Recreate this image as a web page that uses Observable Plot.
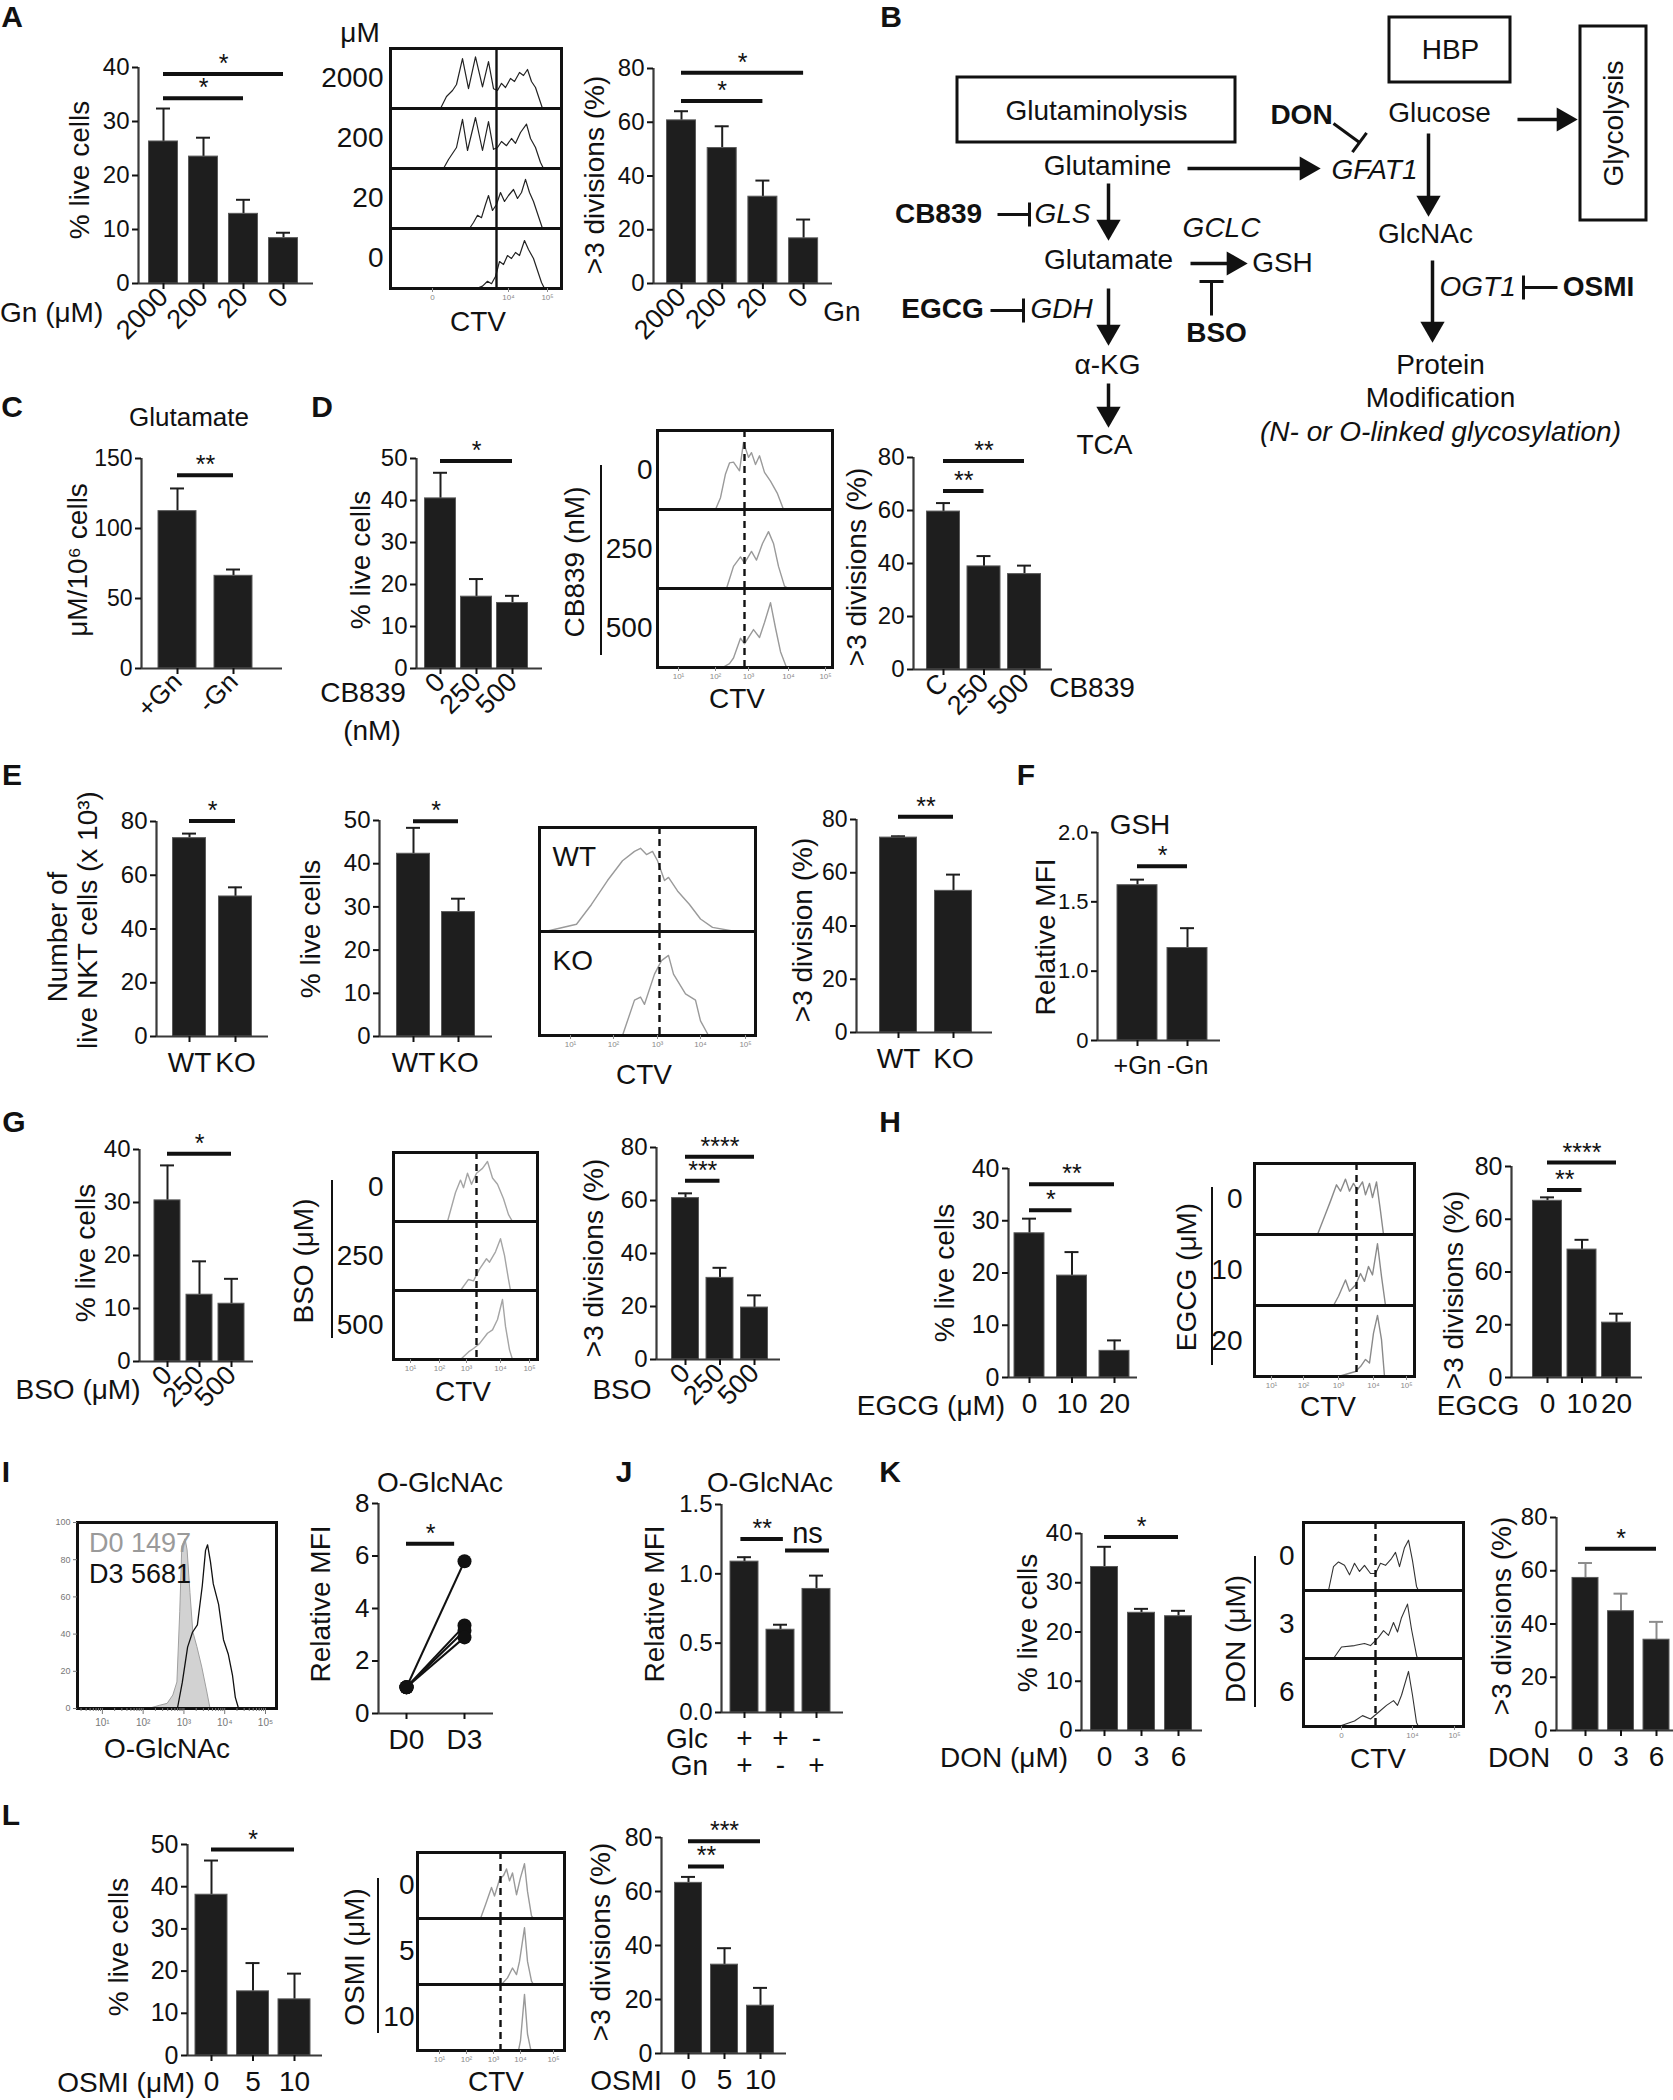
<!DOCTYPE html>
<html><head><meta charset="utf-8">
<script src="https://cdn.jsdelivr.net/npm/d3@7"></script>
<script src="https://cdn.jsdelivr.net/npm/@observablehq/plot@0.6"></script>
<style>
html,body{margin:0;padding:0;background:#fff;}
#fig{position:relative;width:1673px;height:2100px;overflow:hidden;background:#fff;font-family:"Liberation Sans",Arial,Helvetica,sans-serif;color:#111;}
#fig .t{position:absolute;white-space:nowrap;line-height:1;}
#fig .vl{position:absolute;width:0;border-left:2px solid #111;}
</style></head><body><div id="fig"></div>
<script>
// ================= DATA =================
// Panel A
const gnDoses = ["2000","200","20","0"];
const A_live = [26.3, 23.5, 12.9, 8.4];
const A_liveErr = [32.4, 27.0, 15.5, 9.4];
const A_liveSig = [[0,3,38.8,"*"],[0,2,34.3,"*"]];
const A_div = [60.7, 50.4, 32.3, 16.8];
const A_divErr = [64.1, 58.5, 38.3, 23.8];
const A_divSig = [[0,3,78.4,"*"],[0,2,67.9,"*"]];
const A_h2000 = [[50,0],[56,0.2],[62,0.3],[66,0.4],[72,0.83],[78,0.33],[85,0.86],[92,0.36],[98,0.78],[103,0.33],[107,0.3],[111,0.42],[115,0.35],[120,0.5],[124,0.45],[129,0.6],[133,0.55],[137,0.65],[141,0.45],[145,0.35],[149,0.15],[152,0]];
const A_h200 = [[53,0],[58,0.15],[62,0.25],[66,0.35],[72,0.82],[77,0.3],[85,0.85],[92,0.3],[98,0.78],[103,0.32],[107,0.35],[111,0.45],[116,0.38],[121,0.5],[125,0.42],[130,0.6],[136,0.74],[140,0.5],[145,0.35],[150,0.1],[153,0]];
const A_h20 = [[79,0],[83,0.1],[87,0.22],[91,0.18],[95,0.4],[98,0.55],[102,0.3],[106,0.4],[110,0.6],[114,0.45],[118,0.55],[123,0.65],[127,0.5],[131,0.6],[135,0.82],[139,0.6],[143,0.45],[147,0.25],[152,0]];
const A_h0 = [[86,0],[92,0.04],[97,0.12],[101,0.08],[105,0.2],[109,0.45],[113,0.4],[117,0.55],[121,0.5],[125,0.6],[129,0.55],[134,0.8],[138,0.65],[143,0.5],[147,0.3],[151,0.1],[154,0]];
const A_ctvTicks = [[42,"0"],[118,"10⁴"],[157,"10⁵"]];
// Panel B (pathway diagram, layout units)
const B_boxes = [{x1:100,x2:378,y1:77,y2:142},{x1:532,x2:653,y1:17,y2:82},{x1:723,x2:789,y1:26,y2:220}];
const B_plain = [{t:"Glutaminolysis",x:239,y:111},{t:"HBP",x:593,y:50},{t:"Glucose",x:582,y:113},{t:"Glutamine",x:250,y:166},{t:"GlcNAc",x:568,y:234},{t:"Glutamate",x:251,y:260},{t:"GSH",x:425,y:263},{t:"α-KG",x:250,y:365},{t:"TCA",x:247,y:445},{t:"Protein",x:583,y:365},{t:"Modification",x:583,y:398}];
const B_bold = [{t:"DON",x:444,y:115},{t:"CB839",x:81,y:214},{t:"BSO",x:359,y:333},{t:"EGCG",x:85,y:309},{t:"OSMI",x:741,y:287}];
const B_italic = [{t:"GFAT1",x:517,y:170},{t:"GLS",x:205,y:214},{t:"GCLC",x:364,y:228},{t:"GDH",x:204,y:309},{t:"(N- or O-linked glycosylation)",x:583,y:432}];
const B_italicStart = [{t:"OGT1",x:582,y:287}];
const B_vertical = [{t:"Glycolysis",x:757,y:123}];
const B_arrows = [[660,119,720,119],[330,168,463,168],[571,133,571,216],[251,183,251,240],[333,263,390,263],[251,288,251,345],[251,383,251,427],[575,260,575,342]];
const B_inhib = [[476,123,502,142],[140,214,172,214],[133,310,166,310],[354,315,354,281],[700,287,666,287]];
// Panel C
const C_cats = ["+Gn","-Gn"];
const C_glu = [112.4, 66.2];
const C_gluErr = [128.6, 70.7];
const C_sig = [[0,1,138,"**"]];
// Panel D
const cbDoses = ["0","250","500"];
const D_live = [40.5, 17.1, 15.6];
const D_liveErr = [46.6, 21.3, 17.3];
const D_liveSig = [[0,2,49.4,"*"]];
const D_divCats = ["C","250","500"];
const D_div = [59.6, 38.9, 36.0];
const D_divErr = [62.8, 42.8, 39.2];
const D_divSig = [[0,2,78.7,"**"],[0,1,67.4,"**"]];
const D_h0 = [[58,0],[63,0.15],[68,0.45],[72,0.59],[76,0.6],[82,0.49],[86,0.85],[91,0.66],[94,0.72],[98,0.57],[102,0.68],[107,0.47],[113,0.36],[120,0.2],[126,0]];
const D_h250 = [[69,0],[72,0.12],[76,0.28],[83,0.4],[87,0.32],[94,0.47],[99,0.36],[105,0.57],[111,0.72],[116,0.57],[121,0.28],[127,0.03],[131,0]];
const D_h500 = [[65,0],[72,0.05],[76,0.12],[83,0.37],[87,0.3],[96,0.48],[102,0.38],[107,0.57],[113,0.82],[118,0.5],[123,0.2],[129,0]];
const D_ctvTicks = [[21,"10¹"],[58,"10²"],[91,"10³"],[131,"10⁴"],[168,"10⁵"]];
// Panel E
const geno = ["WT","KO"];
const E_num = [73.8, 52.1];
const E_numErr = [75.5, 55.5];
const E_numSig = [[0,1,80.2,"*"]];
const E_live = [42.3, 28.8];
const E_liveErr = [48.3, 31.9];
const E_liveSig = [[0,1,49.8,"*"]];
const E_div = [73.2, 53.2];
const E_divErr = [73.7, 59.3];
const E_divSig = [[0,1,81,"**"]];
const E_hWT = [[6,0],[37,0.07],[52,0.26],[68,0.49],[83,0.68],[95,0.77],[101,0.8],[107,0.74],[113,0.77],[118,0.68],[125,0.49],[129,0.52],[138,0.39],[150,0.26],[161,0.12],[173,0.04],[196,0]];
const E_hKO = [[83,0],[95,0.34],[101,0.37],[105,0.3],[115,0.59],[122,0.72],[129,0.77],[134,0.59],[139,0.51],[146,0.4],[156,0.34],[161,0.14],[169,0]];
const E_ctvTicks = [[31,"10¹"],[74,"10²"],[118,"10³"],[161,"10⁴"],[206,"10⁵"]];
// Panel F
const F_cats = ["+Gn","-Gn"];
const F_mfi = [1.62, 1.167];
const F_mfiErr = [1.66, 1.31];
const F_sig = [[0,1,1.757,"*"]];
const F_ticks = [0.5, 1, 1.5, 2];
const F_tickLabels = ["0","1.0","1.5","2.0"];
// Panel G
const bsoDoses = ["0","250","500"];
const G_live = [30.4, 12.6, 10.9];
const G_liveErr = [37.0, 18.9, 15.6];
const G_liveSig = [[0,2,39.2,"*"]];
const G_div = [60.9, 30.8, 19.6];
const G_divErr = [62.7, 34.6, 24.2];
const G_divSig = [[0,2,76.5,"****"],[0,1,67.5,"***"]];
const G_h0 = [[54,0],[62,0.42],[67,0.6],[70,0.49],[74,0.7],[78,0.54],[83,0.7],[89,0.77],[94,0.87],[99,0.63],[104,0.54],[110,0.33],[115,0.1],[119,0]];
const G_h250 = [[67,0],[75,0.16],[80,0.14],[86,0.31],[93,0.46],[96,0.41],[102,0.56],[107,0.75],[111,0.51],[115,0.16],[117,0]];
const G_h500 = [[67,0],[75,0.11],[80,0.16],[86,0.23],[94,0.38],[99,0.43],[104,0.58],[109,0.87],[112,0.48],[116,0.14],[119,0]];
const G_ctvTicks = [[17,"10¹"],[46,"10²"],[73,"10³"],[107,"10⁴"],[136,"10⁵"]];
// Panel H
const egcgDoses = ["0","10","20"];
const H_live = [27.6, 19.5, 5.1];
const H_liveErr = [30.4, 24.0, 7.1];
const H_liveSig = [[0,2,37.0,"**"],[0,1,32.0,"*"]];
const H_div = [67.0, 48.5, 20.8];
const H_divErr = [68.3, 52.2, 24.2];
const H_divSig = [[0,2,81.5,"****"],[0,1,71.1,"**"]];
const H_divTickLabels = ["0","20","60","60","80"];
const H_h0 = [[63,0],[71,0.29],[76,0.47],[82,0.7],[86,0.61],[91,0.78],[95,0.61],[99,0.72],[103,0.63],[108,0.74],[111,0.56],[115,0.72],[118,0.52],[122,0.74],[126,0.33],[129,0]];
const H_h10 = [[79,0],[84,0.13],[91,0.36],[95,0.2],[101,0.29],[106,0.45],[110,0.34],[114,0.55],[118,0.43],[123,0.87],[127,0.41],[131,0]];
const H_h20 = [[84,0],[101,0.07],[106,0.14],[111,0.24],[115,0.19],[119,0.61],[123,0.86],[127,0.52],[130,0]];
const H_ctvTicks = [[17,"10¹"],[49,"10²"],[84,"10³"],[119,"10⁴"],[152,"10⁵"]];
// Panel I
const I_d0Hist = [[2.18,0],[2.42,1.5],[2.6,2.5],[2.74,7],[2.84,14],[2.91,52],[2.96,87],[3.04,91],[3.09,85],[3.16,62],[3.23,41],[3.33,33],[3.45,22],[3.58,8],[3.65,0]];
const I_d3Hist = [[2.84,0],[2.96,14],[3.09,33],[3.21,41],[3.33,45],[3.45,66],[3.53,85],[3.58,88],[3.65,79],[3.72,67],[3.85,56],[3.97,37],[4.09,29],[4.19,18],[4.26,6],[4.34,0]];
const I_days = ["D0","D3"];
const I_d0 = [1, 1, 1, 1];
const I_d3 = [5.8, 3.35, 3.15, 2.9];
const I_sig = [[0,0.83,6.47,"*"]];
// Panel J
const J_glc = ["+","+","-"];
const J_gn = ["+","-","+"];
const J_mfi = [1.088, 0.597, 0.891];
const J_mfiErr = [1.12, 0.633, 0.987];
const J_sig = [[-0.1,1.08,1.252,"**"],[1.14,2.36,1.168,"ns"]];
// Panel K
const donDoses = ["0","3","6"];
const K_live = [33.2, 23.9, 23.2];
const K_liveErr = [37.3, 24.7, 24.3];
const K_liveSig = [[0,2,39.3,"*"]];
const K_div = [57.3, 44.8, 34.1];
const K_divErr = [62.9, 51.4, 40.8];
const K_divSig = [[0,2,68.3,"*"]];
const K_h0 = [[25,0],[30,0.35],[35,0.42],[41,0.37],[46,0.23],[51,0.4],[56,0.28],[61,0.37],[67,0.25],[72,0.25],[77,0.4],[82,0.37],[88,0.47],[92,0.56],[96,0.35],[101,0.63],[105,0.74],[109,0.44],[113,0.06],[115,0]];
const K_h3 = [[30,0],[38,0.17],[51,0.19],[61,0.22],[67,0.19],[75,0.31],[80,0.41],[85,0.34],[90,0.53],[94,0.39],[98,0.6],[104,0.8],[108,0.43],[113,0.05],[114,0]];
const K_h6 = [[35,0],[51,0.08],[59,0.16],[67,0.11],[75,0.21],[83,0.31],[90,0.38],[94,0.31],[98,0.46],[105,0.81],[109,0.46],[113,0.06],[115,0]];
const K_ctvTicks = [[38,"0"],[109,"10⁴"],[151,"10⁵"]];
// Panel L
const osmiDoses = ["0","5","10"];
const L_live = [38.1, 15.2, 13.3];
const L_liveErr = [46.2, 21.9, 19.4];
const L_liveSig = [[0,2,48.8,"*"]];
const L_div = [63.2, 32.9, 17.7];
const L_divErr = [65.4, 39.0, 24.3];
const L_divSig = [[0,2,78.6,"***"],[0,1,69.3,"**"]];
const L_h0 = [[63,0],[68,0.21],[74,0.47],[77,0.34],[82,0.59],[86,0.65],[89,0.75],[92,0.57],[95,0.69],[99,0.36],[103,0.62],[107,0.83],[110,0.41],[114,0.04],[116,0]];
const L_h5 = [[84,0],[90,0.1],[95,0.25],[99,0.15],[102,0.35],[107,0.86],[110,0.35],[114,0.05],[116,0]];
const L_h10 = [[101,0],[103,0.15],[107,0.85],[110,0.25],[113,0.03],[114,0]];
const L_ctvTicks = [[22,"10¹"],[49,"10²"],[76,"10³"],[103,"10⁴"],[136,"10⁵"]];

// ================= HELPERS =================
const FONT = '"Liberation Sans", Arial, Helvetica, sans-serif';
const BAR = "#1e1e1e", AX = "#3a3a3a";
const fig = document.getElementById("fig");
const STYLE = {overflow:"visible", background:"transparent", fontFamily:FONT, color:"#111"};
function put(el, x, y){ el.style.position="absolute"; el.style.left=x+"px"; el.style.top=y+"px"; fig.appendChild(el); return el; }
function T(text, x, y, o={}){
  const s=document.createElement("div"); s.className="t"; s.textContent=text;
  s.style.fontSize=(o.size||28)+"px";
  if(o.bold) s.style.fontWeight="bold";
  if(o.italic) s.style.fontStyle="italic";
  if(o.color) s.style.color=o.color;
  const ax=o.anchor==="start"?"0%":o.anchor==="end"?"-100%":"-50%";
  s.style.transform=`translate(${ax},-50%)`+(o.rotate?` rotate(${o.rotate}deg)`:"");
  return put(s,x,y);
}
function VL(x,y1,y2){ const d=document.createElement("div"); d.className="vl"; d.style.height=(y2-y1)+"px"; put(d,x-1,y1); }

function barChart(c){
  const n=(c.cats||c.vals).length, s=c.sp;
  const ml=130, mr=130, mt=70, mb=110;
  const xd=[(c.L-c.c0)/s,(c.R-c.c0)/s];
  const hw=(c.barW||0)/2/s, cap=7/s;
  const y0=c.yMin??0;
  const sig=(c.sig||[]).map(([a,b,y,l])=>({a,b,y,l}));
  const marks=[];
  if(c.pairs){
    const pr=c.pairs.map((v,k)=>({a:I_d0[k],b:v}));
    marks.push(Plot.link(pr,{x1:0,y1:"a",x2:1,y2:"b",stroke:"#111",strokeWidth:2}));
    marks.push(Plot.dot(pr,{x:0,y:"a",r:7,fill:"#111"}));
    marks.push(Plot.dot(pr,{x:1,y:"b",r:7,fill:"#111"}));
  } else {
    const data=c.vals.map((v,i)=>({i,v,e:c.errs[i]}));
    const ec=c.errColor||BAR;
    marks.push(Plot.ruleX(data,{x:"i",y1:"v",y2:"e",stroke:ec,strokeWidth:2}));
    marks.push(Plot.ruleY(data,{y:"e",x1:d=>d.i-cap,x2:d=>d.i+cap,stroke:ec,strokeWidth:2}));
    marks.push(Plot.rectY(data,{x1:d=>d.i-hw,x2:d=>d.i+hw,y1:y0,y2:"v",fill:BAR,stroke:"#5a5a5a",strokeWidth:1}));
  }
  marks.push(Plot.ruleY([y0],{x1:xd[0],x2:xd[1],stroke:AX,strokeWidth:2.2}));
  marks.push(Plot.ruleX([xd[0]],{y1:y0,y2:c.yMax,stroke:AX,strokeWidth:2.2}));
  marks.push(Plot.axisY({ticks:c.ticks,tickFormat:c.tickFmt||(d=>String(d)),tickSize:6,tickPadding:3,fontSize:c.tf||24,label:null,strokeWidth:2}));
  marks.push(Plot.axisX({ticks:d3.range(n),tickFormat:i=>c.cats?c.cats[i]:"",tickSize:6,tickPadding:c.rot?3:10,tickRotate:c.rot?-45:0,fontSize:c.cf||(c.rot?27:28),label:null,strokeWidth:2}));
  (c.rows||[]).forEach(([arr,dy])=>{
    marks.push(Plot.text(d3.range(n),{x:d=>d,text:d=>arr[d],frameAnchor:"bottom",dy,fontSize:28,lineAnchor:"middle"}));
  });
  marks.push(Plot.ruleY(sig,{y:"y",x1:"a",x2:"b",stroke:"#111",strokeWidth:4}));
  marks.push(Plot.text(sig.filter(d=>d.l!=="ns"),{x:d=>(d.a+d.b)/2,y:"y",text:"l",dy:-10,fontSize:25,lineAnchor:"middle"}));
  marks.push(Plot.text(sig.filter(d=>d.l==="ns"),{x:d=>(d.a+d.b)/2,y:"y",text:"l",dy:-17,fontSize:29,lineAnchor:"middle"}));
  const p=Plot.plot({width:c.R-c.L+ml+mr,height:c.B-c.T+mt+mb,marginLeft:ml,marginRight:mr,marginTop:mt,marginBottom:mb,
    x:{domain:xd},y:{domain:[y0,c.yMax]},style:STYLE,marks});
  put(p,c.L-ml,c.T-mt);
}

function histo(c){
  const W=c.R-c.L, ml=110, mr=20, mt=20, mb=60;
  const pts=c.data.flatMap((arr,k)=>arr.map(([x,y])=>({row:c.rows[k],x,y})));
  const tickMap=new Map(c.ticks.map(([x,l])=>[x,l]));
  const marks=[
    Plot.line(pts,{x:"x",y:"y",fy:"row",stroke:c.stroke,strokeWidth:c.sw||1.4}),
    Plot.ruleX([c.div],{stroke:"#111",strokeWidth:2.4,strokeDasharray:c.dashed?"7,5":null}),
    Plot.frame({stroke:"#111",strokeWidth:3}),
    Plot.axisX({ticks:c.ticks.map(t=>t[0]),tickFormat:d=>tickMap.get(d)??"",tickSize:4,tickPadding:2,fontSize:8,label:null,color:"#8a8a8a"})
  ];
  if(c.inside) marks.push(Plot.text(c.rows.map(r=>({row:r})),{fy:"row",text:"row",frameAnchor:"top-left",dx:13,dy:30,lineAnchor:"middle",fontSize:28}));
  else marks.push(Plot.axisFy({anchor:"left",tickSize:0,tickPadding:c.pad??7,fontSize:28,label:null}));
  const p=Plot.plot({width:W+ml+mr,height:c.B-c.T+mt+mb,marginLeft:ml,marginRight:mr,marginTop:mt,marginBottom:mb,
    x:{domain:[0,W]},y:{domain:[0,1],axis:null},fy:c.inside?{domain:c.rows,padding:0,axis:null}:{domain:c.rows,padding:0},
    style:STYLE,marks});
  put(p,c.L-ml,c.T-mt);
}

function histI(){
  const L=77,R=276,T0=1522,B=1708, ml=60, mr=20, mt=20, mb=60;
  const sup=["⁰","¹","²","³","⁴","⁵"];
  const minor=[]; for(let d=0;d<=5;d++) for(let k=2;k<=9;k++){const v=d+Math.log10(k); if(v>0.39&&v<5.27) minor.push(v);}
  const p=Plot.plot({width:R-L+ml+mr,height:B-T0+mt+mb,marginLeft:ml,marginRight:mr,marginTop:mt,marginBottom:mb,
    x:{domain:[0.39,5.27]},y:{domain:[0,100]},style:STYLE,marks:[
      Plot.areaY(I_d0Hist,{x:d=>d[0],y:d=>d[1],fill:"#d2d2d2",stroke:"#a0a0a0",strokeWidth:1}),
      Plot.line(I_d3Hist,{x:d=>d[0],y:d=>d[1],stroke:"#111",strokeWidth:1.3}),
      Plot.frame({stroke:"#111",strokeWidth:3}),
      Plot.axisY({ticks:[0,20,40,60,80,100],tickSize:4,tickPadding:3,fontSize:9,label:null,color:"#777"}),
      Plot.axisX({ticks:[1,2,3,4,5],tickFormat:d=>"10"+sup[d],tickSize:6,tickPadding:4,fontSize:10,label:null,color:"#777"}),
      Plot.axisX({ticks:minor,tickFormat:()=>"",tickSize:3,label:null,color:"#777"})
    ]});
  put(p,L-ml,T0-mt);
}

function diagramB(){
  const W=816,H=460;
  const arr=B_arrows.map(([x1,y1,x2,y2])=>{const l=Math.hypot(x2-x1,y2-y1),ux=(x2-x1)/l,uy=(y2-y1)/l;
    return {x1,y1,x2:x2-ux*14,y2:y2-uy*14,hx:x2-ux*13.8,hy:y2-uy*13.8,rot:Math.atan2(uy,ux)*180/Math.PI+90};});
  const inh=B_inhib.flatMap(([x1,y1,x2,y2])=>{const l=Math.hypot(x2-x1,y2-y1),ux=(x2-x1)/l,uy=(y2-y1)/l,px=-uy,py=ux;
    return [{x1,y1,x2,y2},{x1:x2-px*12,y1:y2-py*12,x2:x2+px*12,y2:y2+py*12}];});
  const txt={x:"x",y:"y",text:"t",fontSize:28,lineAnchor:"middle"};
  const p=Plot.plot({width:W,height:H,margin:0,x:{domain:[0,W],axis:null},y:{domain:[0,H],reverse:true,axis:null},style:STYLE,marks:[
    Plot.rect(B_boxes,{x1:"x1",x2:"x2",y1:"y1",y2:"y2",fill:"none",stroke:"#111",strokeWidth:3}),
    Plot.link(arr,{x1:"x1",y1:"y1",x2:"x2",y2:"y2",stroke:"#111",strokeWidth:3.5}),
    Plot.dot(arr,{x:"hx",y:"hy",rotate:"rot",symbol:"triangle",r:9,fill:"#111",stroke:"none"}),
    Plot.link(inh,{x1:"x1",y1:"y1",x2:"x2",y2:"y2",stroke:"#111",strokeWidth:3}),
    Plot.text(B_plain,txt),
    Plot.text(B_bold,{...txt,fontWeight:"bold"}),
    Plot.text(B_italic,{...txt,fontStyle:"italic"}),
    Plot.text(B_italicStart,{...txt,fontStyle:"italic",textAnchor:"start"}),
    Plot.text(B_vertical,{...txt,rotate:-90})
  ]});
  put(p,857,0);
}

// ================= DRAW =================
// panel letters
[["A",12,17],["B",891,17],["C",12,407],["D",322,407],["E",12,775],["F",1026,775],["G",14,1122],["H",890,1122],["I",6,1472],["J",624,1472],["K",890,1472],["L",11,1815]]
  .forEach(([l,x,y])=>T(l,x,y,{size:30,bold:true}));

// A
barChart({L:138,R:313,T:67,B:283,yMax:40,ticks:[0,10,20,30,40],c0:163,sp:40,barW:29,cats:gnDoses,vals:A_live,errs:A_liveErr,sig:A_liveSig,rot:true,tf:24,cf:27});
T("% live cells",80,170,{rotate:-90});
T("Gn (μM)",0,313,{anchor:"start"});
histo({L:390,R:561,T:47,B:288,rows:gnDoses,data:[A_h2000,A_h200,A_h20,A_h0],div:106,dashed:false,stroke:"#222",sw:1.2,pad:7,ticks:A_ctvTicks});
T("μM",360,33); T("CTV",478,322);
barChart({L:653,R:832,T:68,B:283,yMax:80,ticks:[0,20,40,60,80],c0:681,sp:40.7,barW:29,cats:gnDoses,vals:A_div,errs:A_divErr,sig:A_divSig,rot:true,tf:24,cf:27});
T(">3 divisions (%)",595,175,{rotate:-90}); T("Gn",842,312);
// B
diagramB();
// C
barChart({L:141,R:282,T:458,B:668,yMax:150,ticks:[0,50,100,150],c0:177,sp:56,barW:38,cats:C_cats,vals:C_glu,errs:C_gluErr,sig:C_sig,rot:true,tf:23,cf:26});
T("Glutamate",189,417,{size:26}); T("μM/10⁶ cells",78,560,{rotate:-90});
// D
barChart({L:416,R:542,T:458,B:668,yMax:50,ticks:[0,10,20,30,40,50],c0:440,sp:36,barW:31,cats:cbDoses,vals:D_live,errs:D_liveErr,sig:D_liveSig,rot:true,tf:24,cf:27});
T("% live cells",361,560,{rotate:-90}); T("CB839",363,693); T("(nM)",372,731);
histo({L:657,R:832,T:429,B:668,rows:cbDoses,data:[D_h0,D_h250,D_h500],div:87,dashed:true,stroke:"#9a9a9a",pad:5,ticks:D_ctvTicks});
T("CB839 (nM)",575,562,{rotate:-90}); VL(601,465,655); T("CTV",737,699);
barChart({L:913,R:1052,T:457,B:669,yMax:80,ticks:[0,20,40,60,80],c0:943,sp:40.5,barW:33,cats:D_divCats,vals:D_div,errs:D_divErr,sig:D_divSig,rot:true,tf:24,cf:27});
T(">3 divisions (%)",857,567,{rotate:-90}); T("CB839",1092,688);
// E
barChart({L:156,R:268,T:821,B:1036,yMax:80,ticks:[0,20,40,60,80],c0:189,sp:46,barW:33,cats:geno,vals:E_num,errs:E_numErr,sig:E_numSig,tf:24});
T("Number of",58,937,{rotate:-90}); T("live NKT cells (x 10³)",88,920,{rotate:-90});
barChart({L:379,R:492,T:820,B:1036,yMax:50,ticks:[0,10,20,30,40,50],c0:413,sp:45,barW:33,cats:geno,vals:E_live,errs:E_liveErr,sig:E_liveSig,tf:24});
T("% live cells",311,929,{rotate:-90});
histo({L:539,R:755,T:826,B:1035,rows:geno,data:[E_hWT,E_hKO],div:120,dashed:true,stroke:"#9a9a9a",inside:true,ticks:E_ctvTicks});
T("CTV",644,1075);
barChart({L:856,R:992,T:819,B:1032,yMax:80,ticks:[0,20,40,60,80],c0:898,sp:55,barW:37,cats:geno,vals:E_div,errs:E_divErr,sig:E_divSig,tf:23});
T(">3 division (%)",803,930,{rotate:-90});
// F
barChart({L:1097,R:1220,T:832,B:1040,yMin:0.5,yMax:2,ticks:F_ticks,tickFmt:d=>F_tickLabels[F_ticks.indexOf(d)],c0:1137,sp:50,barW:40,cats:F_cats,vals:F_mfi,errs:F_mfiErr,sig:F_sig,tf:22,cf:25});
T("GSH",1140,825); T("Relative MFI",1046,937,{rotate:-90});
// G
barChart({L:139,R:253,T:1149,B:1361,yMax:40,ticks:[0,10,20,30,40],c0:167,sp:32,barW:26,cats:bsoDoses,vals:G_live,errs:G_liveErr,sig:G_liveSig,rot:true,tf:24,cf:27});
T("% live cells",86,1253,{rotate:-90}); T("BSO (μM)",78,1390);
histo({L:393,R:537,T:1152,B:1359,rows:bsoDoses,data:[G_h0,G_h250,G_h500],div:83,dashed:true,stroke:"#a5a5a5",pad:10,ticks:G_ctvTicks});
T("BSO (μM)",304,1261,{rotate:-90}); VL(332,1180,1338); T("CTV",463,1392);
barChart({L:656,R:780,T:1147,B:1359,yMax:80,ticks:[0,20,40,60,80],c0:685,sp:34.5,barW:27,cats:bsoDoses,vals:G_div,errs:G_divErr,sig:G_divSig,rot:true,tf:24,cf:27});
T(">3 divisions (%)",594,1258,{rotate:-90}); T("BSO",622,1390);
// H
barChart({L:1008,R:1137,T:1168,B:1377,yMax:40,ticks:[0,10,20,30,40],c0:1029,sp:42.5,barW:30,cats:egcgDoses,vals:H_live,errs:H_liveErr,sig:H_liveSig,tf:25});
T("% live cells",945,1273,{rotate:-90}); T("EGCG (μM)",931,1406);
histo({L:1254,R:1414,T:1162,B:1377,rows:egcgDoses,data:[H_h0,H_h10,H_h20],div:102,dashed:true,stroke:"#8a8a8a",pad:12,ticks:H_ctvTicks});
T("EGCG (μM)",1187,1277,{rotate:-90}); VL(1212,1187,1365); T("CTV",1328,1407);
barChart({L:1511,R:1642,T:1166,B:1377,yMax:80,ticks:[0,20,40,60,80],tickFmt:d=>H_divTickLabels[d/20],c0:1547,sp:34.5,barW:29,cats:egcgDoses,vals:H_div,errs:H_divErr,sig:H_divSig,tf:25});
T(">3 divisions (%)",1454,1290,{rotate:-90}); T("EGCG",1478,1406);
// I
histI();
T("D0 1497",89,1543,{anchor:"start",color:"#9a9a9a",size:27}); T("D3 5681",89,1574,{anchor:"start",size:27});
T("O-GlcNAc",167,1749);
barChart({L:378,R:493,T:1503,B:1713,yMax:8,ticks:[0,2,4,6,8],c0:406,sp:58,cats:I_days,pairs:I_d3,vals:I_d3,sig:I_sig,tf:26});
T("O-GlcNAc",440,1483); T("Relative MFI",321,1604,{rotate:-90});
// J
barChart({L:721,R:843,T:1504,B:1712,yMax:1.5,ticks:[0,0.5,1,1.5],tickFmt:d=>d.toFixed(1),c0:744,sp:36,barW:28,vals:J_mfi,errs:J_mfiErr,sig:J_sig,rows:[[J_glc,26],[J_gn,53]],tf:24});
T("O-GlcNAc",770,1483); T("Relative MFI",655,1604,{rotate:-90});
T("Glc",708,1739,{anchor:"end"}); T("Gn",708,1766,{anchor:"end"});
// K
barChart({L:1081,R:1202,T:1533,B:1730,yMax:40,ticks:[0,10,20,30,40],c0:1104,sp:37,barW:27,cats:donDoses,vals:K_live,errs:K_liveErr,sig:K_liveSig,tf:24});
T("% live cells",1028,1623,{rotate:-90}); T("DON (μM)",1004,1758);
histo({L:1303,R:1463,T:1521,B:1727,rows:donDoses,data:[K_h0,K_h3,K_h6],div:72,dashed:true,stroke:"#333",sw:1.1,pad:9,ticks:K_ctvTicks});
T("DON (μM)",1236,1639,{rotate:-90}); VL(1255,1556,1707); T("CTV",1378,1759);
barChart({L:1556,R:1690,T:1517,B:1730,yMax:80,ticks:[0,20,40,60,80],c0:1585,sp:35.5,barW:26,cats:donDoses,vals:K_div,errs:K_divErr,sig:K_divSig,errColor:"#8c8c8c",tf:24});
T(">3 divisions (%)",1502,1616,{rotate:-90}); T("DON",1519,1758);
// L
barChart({L:187,R:322,T:1844,B:2055,yMax:50,ticks:[0,10,20,30,40,50],c0:211,sp:41.5,barW:32,cats:osmiDoses,vals:L_live,errs:L_liveErr,sig:L_liveSig,tf:25});
T("% live cells",119,1947,{rotate:-90}); T("OSMI (μM)",126,2083);
histo({L:417,R:564,T:1852,B:2050,rows:osmiDoses,data:[L_h0,L_h5,L_h10],div:83,dashed:true,stroke:"#9a9a9a",pad:3,ticks:L_ctvTicks});
T("OSMI (μM)",355,1957,{rotate:-90}); VL(378,1878,2033); T("CTV",496,2082);
barChart({L:661,R:786,T:1837,B:2053,yMax:80,ticks:[0,20,40,60,80],c0:688,sp:36,barW:27,cats:osmiDoses,vals:L_div,errs:L_divErr,sig:L_divSig,tf:25});
T(">3 divisions (%)",601,1942,{rotate:-90}); T("OSMI",626,2081);
</script></body></html>
